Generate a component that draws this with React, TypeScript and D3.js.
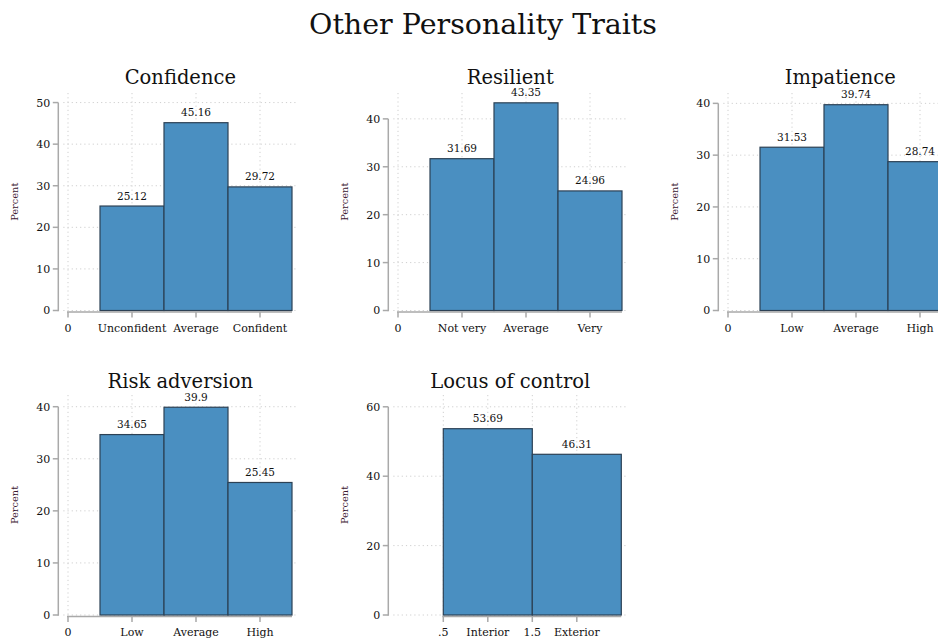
import React from 'react';
import * as d3 from 'd3';

const mainTitle = 'Other Personality Traits';
const yAxisTitle = 'Percent';

const confidenceLabels = ['Unconfident', 'Average', 'Confident'];
const confidenceValues = [25.12, 45.16, 29.72];
const confidenceTicks = [0, 10, 20, 30, 40, 50];

const resilientLabels = ['Not very', 'Average', 'Very'];
const resilientValues = [31.69, 43.35, 24.96];
const resilientTicks = [0, 10, 20, 30, 40];

const impatienceLabels = ['Low', 'Average', 'High'];
const impatienceValues = [31.53, 39.74, 28.74];
const impatienceTicks = [0, 10, 20, 30, 40];

const riskLabels = ['Low', 'Average', 'High'];
const riskValues = [34.65, 39.9, 25.45];
const riskTicks = [0, 10, 20, 30, 40];

const locusLabels = ['Interior', 'Exterior'];
const locusValues = [53.69, 46.31];
const locusTicks = [0, 20, 40, 60];

const FONT = '"DejaVu Serif", serif';
const BAR_FILL = '#4a8fc1';
const BAR_STROKE = '#2c4155';
const AXIS = '#a9a9a9';
const GRID = '#cfcfcf';

type PanelSpec = {
  title: string;
  labels: string[];
  values: number[];
  yTicks: number[];
  yMax: number;
  col: number;
  row: number;
  half?: boolean;
};

const panels: PanelSpec[] = [
  { title: 'Confidence', labels: confidenceLabels, values: confidenceValues, yTicks: confidenceTicks, yMax: 52.3, col: 0, row: 0 },
  { title: 'Resilient', labels: resilientLabels, values: resilientValues, yTicks: resilientTicks, yMax: 45.4, col: 1, row: 0 },
  { title: 'Impatience', labels: impatienceLabels, values: impatienceValues, yTicks: impatienceTicks, yMax: 42.0, col: 2, row: 0 },
  { title: 'Risk adversion', labels: riskLabels, values: riskValues, yTicks: riskTicks, yMax: 42.25, col: 0, row: 1 },
  { title: 'Locus of control', labels: locusLabels, values: locusValues, yTicks: locusTicks, yMax: 63.4, col: 1, row: 1, half: true },
];

const colAxisX = [58.3, 388.3, 718.3];
const rowBottom = [310.5, 615];
const rowTop = [93, 395];
const rowTitleY = [84, 388];

function Panel({ p }: { p: PanelSpec }) {
  const ax = colAxisX[p.col];
  const yB = rowBottom[p.row];
  const yT = rowTop[p.row];
  const right = ax + 240;
  const y = d3.scaleLinear().domain([0, p.yMax]).range([yB, yT]);
  let x: d3.ScaleLinear<number, number>;
  let xTicks: { v: number; label: string }[];
  if (p.half) {
    x = d3.scaleLinear().domain([0.5, 2.5]).range([ax + 55, ax + 233]);
    xTicks = [
      { v: 0.5, label: '.5' },
      { v: 1, label: p.labels[0] },
      { v: 1.5, label: '1.5' },
      { v: 2, label: p.labels[1] },
    ];
  } else {
    x = d3.scaleLinear().domain([0, 3.5]).range([ax + 9.7, ax + 9.7 + 224]);
    xTicks = [{ v: 0, label: '0' }, ...p.labels.map((l, i) => ({ v: i + 1, label: l }))];
  }
  const bars = p.values.map((v, i) => ({ x0: i + 0.5, x1: i + 1.5, v }));
  const maxTick = p.yTicks[p.yTicks.length - 1];
  const xFirst = xTicks[0].v;
  const xLast = bars[bars.length - 1].x1;
  return (
    <g>
      <text x={ax + 122} y={rowTitleY[p.row]} textAnchor="middle" fontFamily={FONT} fontSize={19.5} fill="#111">
        {p.title}
      </text>
      {p.yTicks.map((t) => (
        <line key={'gy' + t} x1={ax + 5} x2={right} y1={y(t)} y2={y(t)} stroke={GRID} strokeWidth={1} strokeDasharray="1.2,3" />
      ))}
      {xTicks.map((t) => (
        <line key={'gx' + t.v} x1={x(t.v)} x2={x(t.v)} y1={yT} y2={yB} stroke={GRID} strokeWidth={1} strokeDasharray="1.2,3" />
      ))}
      <line x1={x(xFirst) - 1} x2={x(xLast)} y1={yB + 1.5} y2={yB + 1.5} stroke={AXIS} strokeWidth={1.5} />
      {xTicks.map((t) => (
        <g key={'xt' + t.v}>
          <line x1={x(t.v)} x2={x(t.v)} y1={yB + 1.5} y2={yB + 7} stroke={AXIS} strokeWidth={1.5} />
          <text x={x(t.v)} y={yB + 21} textAnchor="middle" fontFamily={FONT} fontSize={11} fill="#111">
            {t.label}
          </text>
        </g>
      ))}
      <line x1={ax} x2={ax} y1={y(0) + 0.75} y2={y(maxTick)} stroke={AXIS} strokeWidth={1.5} />
      {p.yTicks.map((t) => (
        <g key={'yt' + t}>
          <line x1={ax - 5.5} x2={ax} y1={y(t)} y2={y(t)} stroke={AXIS} strokeWidth={1.5} />
          <text x={ax - 8} y={y(t)} dy="0.36em" textAnchor="end" fontFamily={FONT} fontSize={11} fill="#111">
            {t}
          </text>
        </g>
      ))}
      <text
        transform={`translate(${ax - 40.5},${(yB + yT) / 2}) rotate(-90)`}
        textAnchor="middle"
        fontFamily={FONT}
        fontSize={9.8}
        fill="#3a1630"
      >
        {yAxisTitle}
      </text>
      {bars.map((b, i) => (
        <g key={'b' + i}>
          <rect x={x(b.x0)} y={y(b.v)} width={x(b.x1) - x(b.x0)} height={yB - y(b.v)} fill={BAR_FILL} stroke={BAR_STROKE} strokeWidth={1.2} />
          <text x={(x(b.x0) + x(b.x1)) / 2} y={y(b.v) - 6.5} textAnchor="middle" fontFamily={FONT} fontSize={10.5} fill="#111">
            {String(b.v)}
          </text>
        </g>
      ))}
    </g>
  );
}

export default function App() {
  return (
    <svg width={938} height={641} style={{ position: 'absolute', left: 0, top: 0, background: '#fff' }}>
      <rect width={938} height={641} fill="#fff" />
      <text x={483} y={34} textAnchor="middle" fontFamily={FONT} fontSize={28.5} fill="#111">
        {mainTitle}
      </text>
      {panels.map((p) => (
        <Panel key={p.title} p={p} />
      ))}
    </svg>
  );
}
